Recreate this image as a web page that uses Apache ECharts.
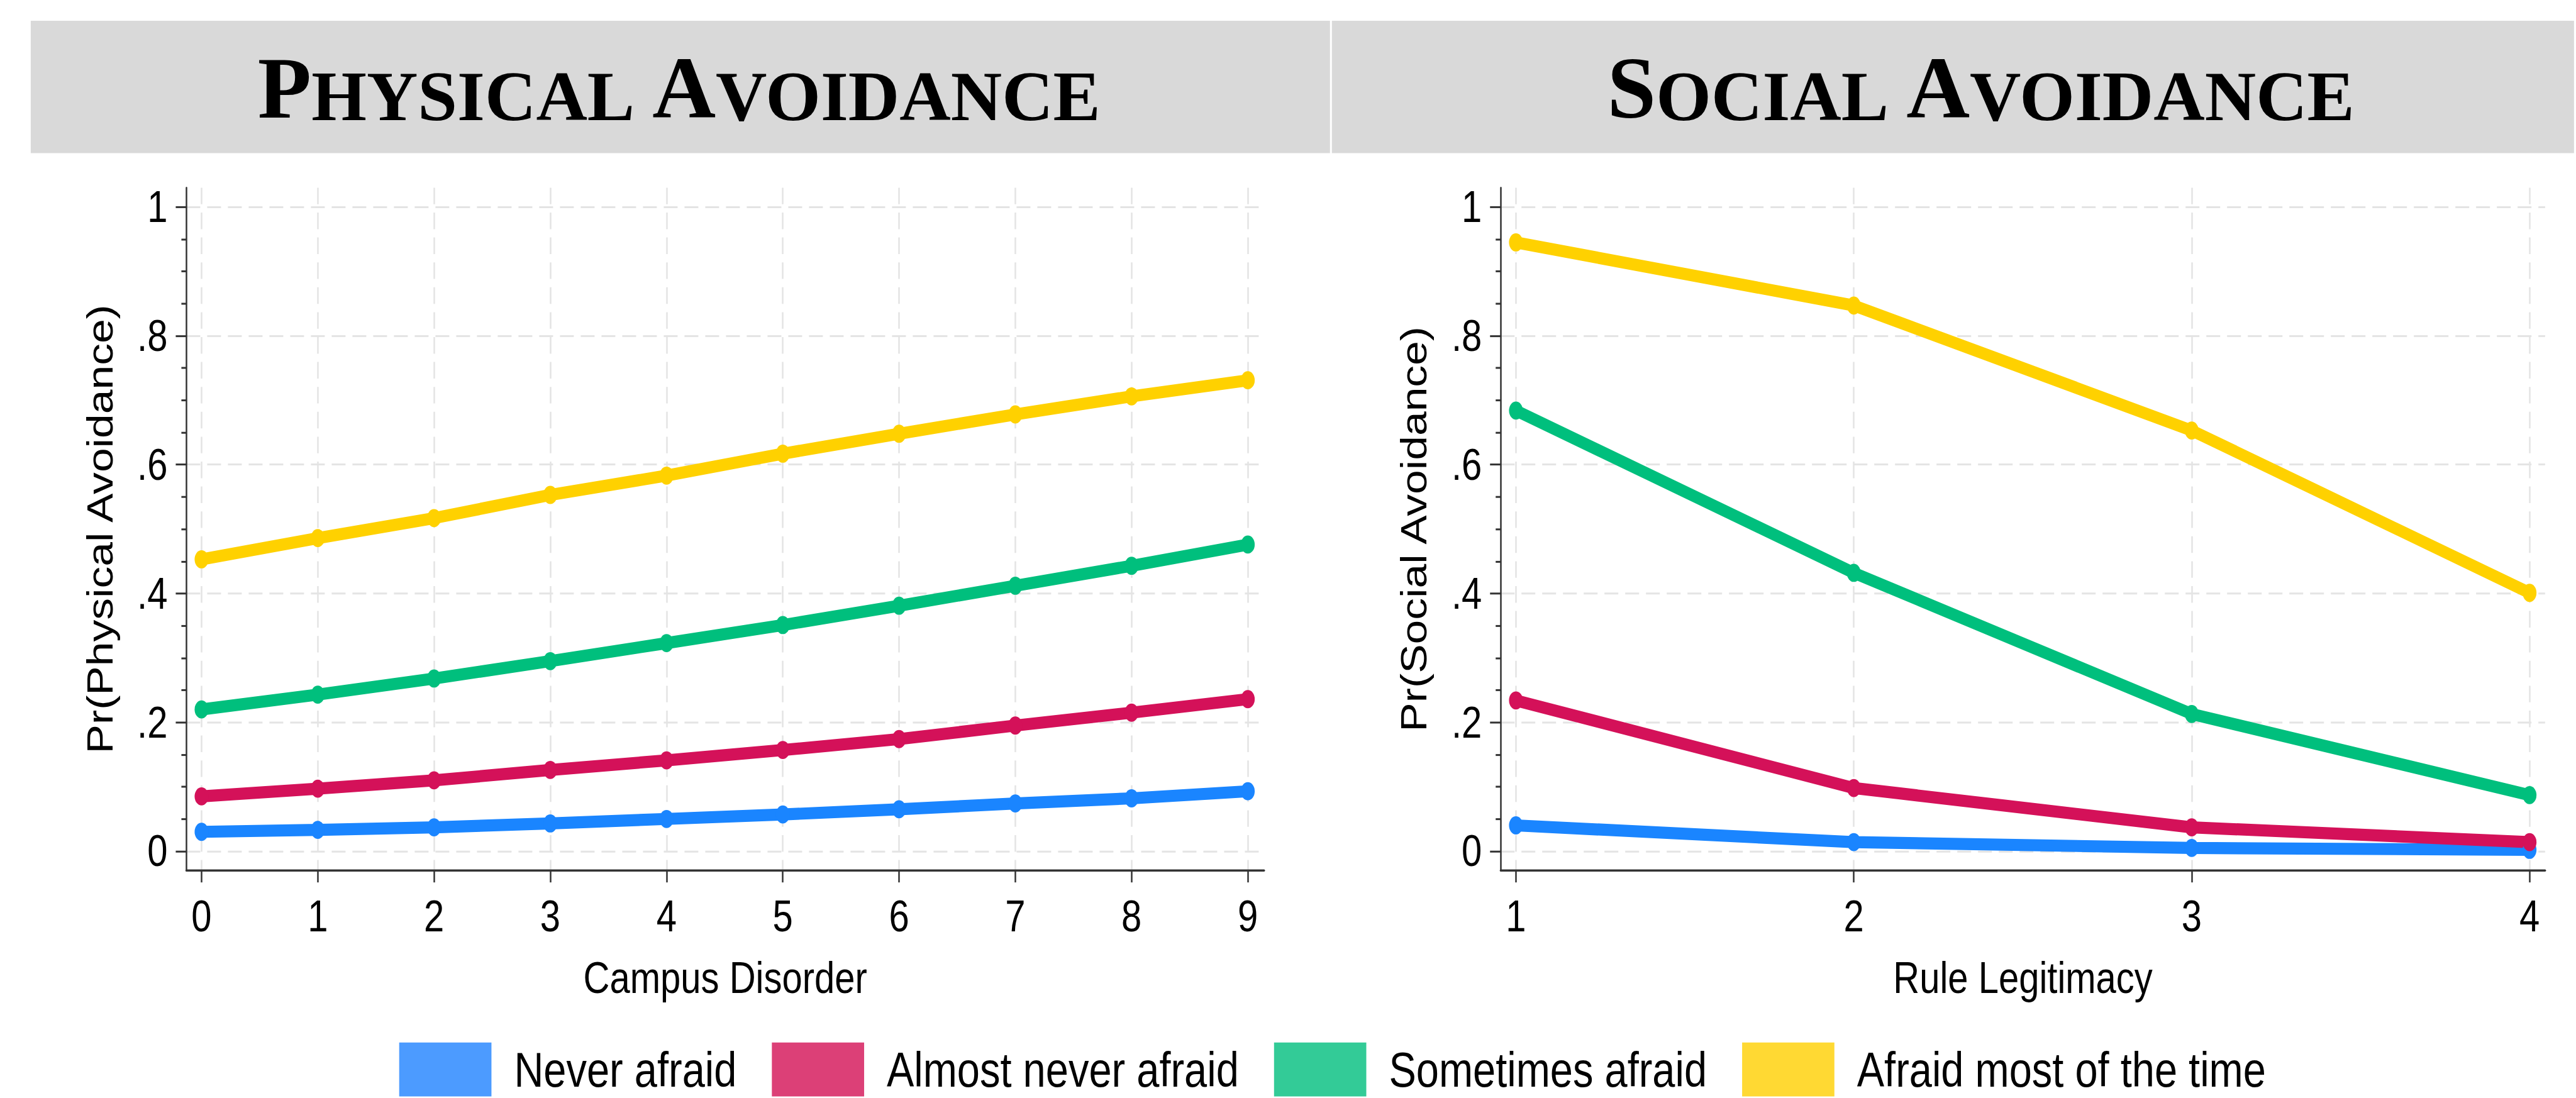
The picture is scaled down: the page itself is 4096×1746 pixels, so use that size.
<!DOCTYPE html>
<html>
<head>
<meta charset="utf-8">
<script src="https://cdn.jsdelivr.net/npm/echarts@6/dist/echarts.min.js"></script>
<style>
  html, body { margin: 0; padding: 0; background: #fff; width: 4096px; height: 1746px; overflow: hidden; }
  #page { width: 4096px; height: 1746px; position: relative; }
  /* the source figure is stretched vertically (~1.2x): draw flat, then stretch */
  #main { position: absolute; left: 0; top: 0; width: 4096px; height: 1455px; transform: scaleY(1.2); transform-origin: 0 0; }
</style>
</head>
<body>
<div id="page"><div id="main"></div></div>
<script>
// measured on the 4101 wide reference, drawn at 0.998; vertical values undo the stretch
var S = 0.998;
var K = 1.2;
function px(v) { return v * S; }
function py(v) { return v * S / K; }

var seriesNames = ['Never afraid', 'Almost never afraid', 'Sometimes afraid', 'Afraid most of the time'];
var lineColors = ['#1A85FF', '#D41159', '#00BF7D', '#FFD100'];
var legendColors = ['#4C9BFF', '#DC4077', '#33CB97', '#FFD933'];

// left panel: Pr(Physical Avoidance) by Campus Disorder
var campusDisorder = [0, 1, 2, 3, 4, 5, 6, 7, 8, 9];
var physNever = [0.030, 0.033, 0.037, 0.043, 0.050, 0.057, 0.065, 0.074, 0.082, 0.093];
var physAlmostNever = [0.085, 0.097, 0.110, 0.126, 0.141, 0.157, 0.174, 0.195, 0.215, 0.236];
var physSometimes = [0.220, 0.243, 0.268, 0.295, 0.323, 0.351, 0.381, 0.412, 0.443, 0.476];
var physMost = [0.453, 0.486, 0.517, 0.553, 0.583, 0.617, 0.648, 0.678, 0.706, 0.731];

// right panel: Pr(Social Avoidance) by Rule Legitimacy
var ruleLegitimacy = [1, 2, 3, 4];
var socNever = [0.040, 0.014, 0.005, 0.002];
var socAlmostNever = [0.234, 0.098, 0.037, 0.014];
var socSometimes = [0.684, 0.432, 0.213, 0.087];
var socMost = [0.945, 0.847, 0.653, 0.401];

var yTickValues = [0, 0.2, 0.4, 0.6, 0.8, 1];
var yTickLabels = ['0', '.2', '.4', '.6', '.8', '1'];
var yMinorTicks = [0.05, 0.1, 0.15, 0.25, 0.3, 0.35, 0.45, 0.5, 0.55, 0.65, 0.7, 0.75, 0.85, 0.9, 0.95];

var sans = '"Liberation Sans", Arial, sans-serif';
var serif = '"Liberation Serif", "Times New Roman", serif';
var axisColor = '#333';
var gridLine = { show: true, lineStyle: { color: '#E4E4E4', width: 2.5, type: [22, 11] } };
var ellipse = 'path://M0,1 A1,1 0 1,1 2,1 A1,1 0 1,1 0,1 Z';

var chartDom = document.getElementById('main');
var myChart = echarts.init(chartDom, null, { renderer: 'svg' });
var option;

function xAxis(grid, min, max, ticks, name) {
    return {
        type: 'value', gridIndex: grid, min: min, max: max,
        name: name, nameLocation: 'middle', nameGap: py(144) - 6.6,
        nameTextStyle: { fontFamily: sans, fontSize: 58, color: '#000' },
        axisLine: { show: true, onZero: false, lineStyle: { color: axisColor, width: 3 } },
        axisTick: { show: true, customValues: ticks, length: py(19), lineStyle: { color: axisColor, width: 2.5 } },
        axisLabel: { customValues: ticks, margin: py(46) - 6.6, fontFamily: sans, fontSize: 58, color: '#000' },
        splitLine: gridLine
    };
}

function yAxis(grid, name) {
    return {
        type: 'value', gridIndex: grid, min: -0.03, max: 1.03, position: 'left',
        name: name, nameLocation: 'middle', nameGap: px(109), nameRotate: 90,
        nameTextStyle: { fontFamily: sans, fontSize: 58, color: '#000' },
        axisLine: { show: true, onZero: false, lineStyle: { color: axisColor, width: 2.5 } },
        axisTick: { show: true, customValues: yTickValues, length: px(17), lineStyle: { color: axisColor, width: 2.5 } },
        axisLabel: {
            customValues: yTickValues, margin: px(30), fontFamily: sans, fontSize: 58, color: '#000',
            formatter: function (v) {
                var i = yTickValues.findIndex(function (t) { return Math.abs(t - v) < 1e-6; });
                return i >= 0 ? yTickLabels[i] : '';
            }
        },
        splitLine: gridLine
    };
}

function yMinor(grid) {
    return {
        type: 'value', gridIndex: grid, min: -0.03, max: 1.03, position: 'left',
        axisLine: { show: false, onZero: false },
        axisTick: { show: true, customValues: yMinorTicks, length: px(8), lineStyle: { color: axisColor, width: 2.5 } },
        axisLabel: { show: false },
        splitLine: { show: false }
    };
}

function line(name, i, xs, ys, xi, yi) {
    return {
        type: 'line', name: name, xAxisIndex: xi, yAxisIndex: yi,
        data: xs.map(function (x, k) { return [x, ys[k]]; }),
        symbol: ellipse, symbolSize: [22, 24],
        lineStyle: { width: 16, color: lineColors[i] },
        itemStyle: { color: lineColors[i] },
        clip: false, silent: true
    };
}

function title(cx, txt1, rest1, txt2, rest2) {
    return {
        type: 'text', x: px(cx), y: py(140), scaleY: 1 / K,
        style: {
            text: '{b|' + txt1 + '}{s|' + rest1 + '} {b|' + txt2 + '}{s|' + rest2 + '}',
            align: 'center', verticalAlign: 'middle',
            fontFamily: serif, fontWeight: 'bold', fontSize: px(113), fill: '#000',
            rich: {
                b: { fontFamily: serif, fontWeight: 'bold', fontSize: px(140), lineHeight: px(140), verticalAlign: 'bottom' },
                s: { fontFamily: serif, fontWeight: 'bold', fontSize: px(113), lineHeight: px(122), verticalAlign: 'bottom' }
            }
        }
    };
}

var physSeries = [physNever, physAlmostNever, physSometimes, physMost];
var socSeries = [socNever, socAlmostNever, socSometimes, socMost];
var series = [];
seriesNames.forEach(function (n, i) { series.push(line(n, i, campusDisorder, physSeries[i], 0, 0)); });
seriesNames.forEach(function (n, i) { series.push(line(n, i, ruleLegitimacy, socSeries[i], 1, 2)); });

option = {
    animation: false,
    backgroundColor: '#fff',
    grid: [
        { left: px(297), top: py(299), width: px(1717), height: py(1088) },
        { left: px(2391), top: py(299), width: px(1664), height: py(1088) }
    ],
    xAxis: [
        xAxis(0, -0.13, 9.14, campusDisorder, 'Campus Disorder'),
        xAxis(1, 0.955, 4.046, ruleLegitimacy, 'Rule Legitimacy')
    ],
    yAxis: [
        yAxis(0, 'Pr(Physical Avoidance)'),
        yMinor(0),
        yAxis(1, 'Pr(Social Avoidance)'),
        yMinor(1)
    ],
    legend: {
        left: px(631), top: py(1655), icon: 'rect',
        itemWidth: px(147), itemHeight: py(86), itemGap: px(56),
        textStyle: { fontFamily: sans, fontSize: 65, color: '#000', padding: [0, 0, 0, px(31)] },
        data: seriesNames.map(function (n, i) { return { name: n, itemStyle: { color: legendColors[i] } }; })
    },
    graphic: [
        { type: 'rect', shape: { x: px(49), y: py(33), width: px(2070), height: py(211) }, style: { fill: '#D9D9D9' } },
        { type: 'rect', shape: { x: px(2122), y: py(33), width: px(1979), height: py(211) }, style: { fill: '#D9D9D9' } },
        title(1082, 'P', 'HYSICAL', 'A', 'VOIDANCE'),
        title(3156, 'S', 'OCIAL', 'A', 'VOIDANCE')
    ],
    series: series
};

option && myChart.setOption(option);
</script>
</body>
</html>
